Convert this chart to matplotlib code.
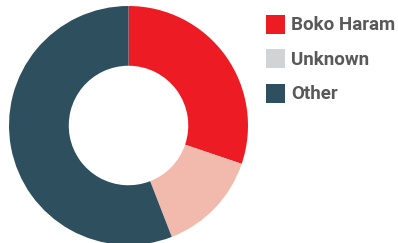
import matplotlib
matplotlib.use("Agg")
import matplotlib.pyplot as plt
from matplotlib.patches import Rectangle

# share of attacks by group (percent)
labels = ["Boko Haram", "Unknown", "Other"]
values = [30.2, 13.9, 55.9]
slice_colors = ["#ed1c24", "#f2b9ad", "#2e4f5e"]
legend_colors = ["#ed1c24", "#d1d3d4", "#2e4f5e"]

W, H = 398, 243
fig = plt.figure(figsize=(W / 100, H / 100), dpi=100)

# donut: centre (128.5, 125.5) px from top-left, outer radius 119.5 px
cx, cy, r = 128.5, 125.5, 119.5
ax = fig.add_axes([(cx - r) / W, (H - cy - r) / H, 2 * r / W, 2 * r / H])
wedges, _ = ax.pie(values, colors=slice_colors, startangle=90, counterclock=False,
                   radius=1, wedgeprops=dict(width=0.5, linewidth=0))
for w in wedges:
    w.set_clip_on(False)
ax.set_xlim(-1, 1)
ax.set_ylim(-1, 1)
ax.set_aspect("equal")
ax.axis("off")

# legend
for i, (lab, col) in enumerate(zip(labels, legend_colors)):
    top = 15 + i * 34.5
    fig.patches.append(Rectangle((266 / W, 1 - (top + 19) / H), 19 / W, 19 / H,
                                 transform=fig.transFigure, facecolor=col,
                                 edgecolor="none"))
    fig.text(291 / W, 1 - (top + 10) / H, lab, fontsize=13.5, fontweight="bold",
             family="Roboto", color="#595959", va="center", ha="left")

fig.savefig("out.png", dpi=100)
